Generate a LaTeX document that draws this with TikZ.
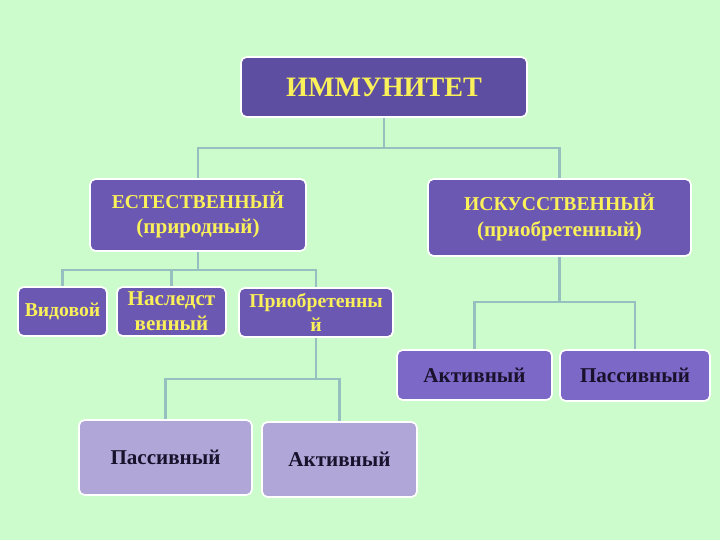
\documentclass[tikz,border=0pt]{standalone}
\usepackage{fontspec}
\setmainfont{Liberation Serif}
\definecolor{bg}{RGB}{204,252,204}
\definecolor{darkviolet}{RGB}{93,78,162}
\definecolor{midviolet}{RGB}{106,88,178}
\definecolor{lightviolet}{RGB}{124,104,198}
\definecolor{lavender}{RGB}{176,166,216}
\definecolor{yellowtext}{RGB}{250,240,90}
\definecolor{darktext}{RGB}{25,18,45}
\definecolor{linecol}{RGB}{150,192,192}

\begin{document}
\begin{tikzpicture}[x=0.025cm,y=-0.025cm]
  \tikzset{rect/.style={draw=white,line width=1.2pt,rectangle,inner sep=0pt,rounded corners=4pt,align=center}}
  \tikzset{conn/.style={draw=linecol,line width=1.5pt}}
  \tikzset{big/.style={font=\fontsize{15}{18}\selectfont\bfseries}}
  \tikzset{small/.style={font=\fontsize{14}{17}\selectfont\bfseries}}

  \fill[bg] (0,0) rectangle (720,540);

  \node[rect,fill=darkviolet,text=yellowtext,minimum width=7.15cm,minimum height=1.5cm,font=\fontsize{20}{24}\selectfont\bfseries] (immun) at (384,87) {ИММУНИТЕТ};

  \node[rect,fill=midviolet,text=yellowtext,minimum width=5.4cm,minimum height=1.8cm,big] (estest) at (198,215) {{\fontsize{14}{17}\selectfont ЕСТЕСТВЕННЫЙ}\\(природный)};
  \node[rect,fill=midviolet,text=yellowtext,minimum width=6.575cm,minimum height=1.925cm,big] (iskus) at (559.5,217.5) {{\fontsize{14}{17}\selectfont ИСКУССТВЕННЫЙ}\\(приобретенный)};

  \node[rect,fill=midviolet,text=yellowtext,minimum width=2.225cm,minimum height=1.225cm,small] (vidov) at (62.5,311.5) {Видовой};
  \node[rect,fill=midviolet,text=yellowtext,minimum width=2.725cm,minimum height=1.225cm,big] (nasled) at (171.5,311.5) {Наследст\\венный};
  \node[rect,fill=midviolet,text=yellowtext,minimum width=3.85cm,minimum height=1.225cm,small] (priobr) at (316,312.5) {Приобретенны\\й};

  \node[rect,fill=lavender,text=darktext,minimum width=4.325cm,minimum height=1.875cm,big] (passivA) at (165.5,457.5) {Пассивный};
  \node[rect,fill=lavender,text=darktext,minimum width=3.875cm,minimum height=1.875cm,big] (activA) at (339.5,459.5) {Активный};

  \node[rect,fill=lightviolet,text=darktext,minimum width=3.875cm,minimum height=1.25cm,big] (activB) at (474.5,375) {Активный};
  \node[rect,fill=lightviolet,text=darktext,minimum width=3.75cm,minimum height=1.275cm,big] (passivB) at (635,375.5) {Пассивный};

  \coordinate (j1) at (384,148);
  \coordinate (j2) at (198,270);
  \coordinate (j3) at (316,379);
  \coordinate (j4) at (559.5,302);

  \draw[conn] (immun.south) -- (j1);
  \draw[conn] (j1) -| (estest.north);
  \draw[conn] (j1) -| (iskus.north);

  \draw[conn] (estest.south) -- (j2);
  \draw[conn] (j2) -| (vidov.north);
  \draw[conn] (j2) -| (nasled.north);
  \draw[conn] (j2) -| (priobr.north);

  \draw[conn] (priobr.south) -- (j3);
  \draw[conn] (j3) -| (passivA.north);
  \draw[conn] (j3) -| (activA.north);

  \draw[conn] (iskus.south) -- (j4);
  \draw[conn] (j4) -| (activB.north);
  \draw[conn] (j4) -| (passivB.north);

\end{tikzpicture}
\end{document}
